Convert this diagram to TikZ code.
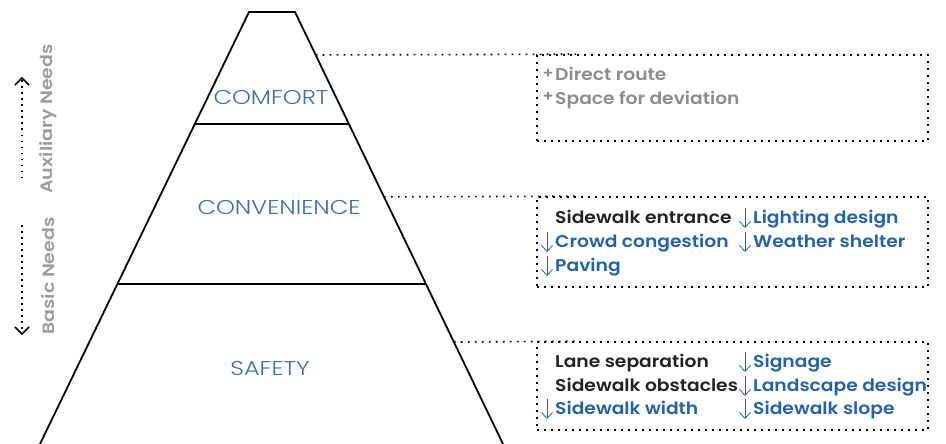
\documentclass[tikz,border=0pt]{standalone}
\usepackage{fontspec}
\setmainfont{Poppins}
\IfFontExistsTF{Poppins SemiBold}{%
  \newfontfamily\semib{Poppins SemiBold}[FakeStretch=1.1]%
  \newfontfamily\semibs{Poppins SemiBold}[FakeStretch=1.15]}{%
  \newfontfamily\semib{Poppins}[UprightFont=*-Bold,FakeStretch=1.1]%
  \newfontfamily\semibs{Poppins}[UprightFont=*-Bold,FakeStretch=1.15]}
\IfFontExistsTF{Poppins Light}{\newfontfamily\lightf{Poppins Light}[FakeStretch=1.2]}{\newfontfamily\lightf{Poppins}[FakeStretch=1.2]}
\usetikzlibrary{arrows.meta,calc}
\definecolor{lblue}{HTML}{3A6EB3}
\definecolor{tblue}{HTML}{2462A8}
\definecolor{tdark}{HTML}{222222}
\definecolor{tgray}{HTML}{8C8C8C}
\definecolor{sgray}{HTML}{9C9C9C}
\tikzset{
  pyr/.style={line width=1.8pt, black},
  level/.style={font=\lightf\fontsize{20}{20}\selectfont, text=lblue, inner sep=0pt},
  dotline/.style={line width=1.6pt, dash pattern=on 1.6pt off 5.4pt, black},
  infobox/.style={dotline, draw, minimum width=391pt, inner sep=0pt},
  item/.style={font=\semib\fontsize{17}{17}\selectfont, anchor=base west, inner sep=0pt},
  dk/.style={item, text=tdark},
  bl/.style={item, text=tblue},
  gr/.style={item, text=tgray},
  plus/.style={text=tgray, font=\semib\fontsize{15}{15}\selectfont, anchor=east, inner sep=0pt},
  dnarr/.style={line width=0.8pt, tblue, -{Straight Barb[length=6pt,width=11pt]}},
  side/.style={font=\semibs\fontsize{16.5}{16.5}\selectfont, text=sgray, rotate=90, inner sep=0pt},
  sidearr/.style={line width=1.5pt, dash pattern=on 1.5pt off 4.5pt, black},
}
\begin{document}
\begin{tikzpicture}[x=1pt,y=-1pt]
\useasboundingbox (0,0) rectangle (946,444);
% pyramid
\coordinate (BL) at (40,444);
\coordinate (TL) at (249,12);
\coordinate (TR) at (295,12);
\coordinate (BR) at (503,444);
\draw[pyr, line join=miter] (BL) -- (TL) -- (TR) -- (BR);
\draw[pyr] ($(TL)!0.2593!(BL)$) -- ($(TR)!0.2593!(BR)$);
\draw[pyr] ($(TL)!0.6296!(BL)$) -- ($(TR)!0.6296!(BR)$);
\node[level] (comfort) at (271,97) {COMFORT};
\node[level] (conv) at (279,207) {CONVENIENCE};
\node[level] (safety) at (270,368) {SAFETY};
% side labels
\node[side] (aux) at (48,119) {Auxiliary Needs};
\node[side] (basic) at (48,276) {Basic Needs};
\coordinate (a1t) at (22,77);
\coordinate (a1b) at (22,178);
\coordinate (a2t) at (22,225);
\coordinate (a2b) at (22,335);
\draw[sidearr, -{Straight Barb[length=7pt,width=14pt]}] (a1b) -- (a1t);
\draw[sidearr, -{Straight Barb[length=7pt,width=14pt]}] (a2t) -- (a2b);
% boxes
\node[infobox, minimum height=86pt] (box1) at (732.5,98) {};
\node[infobox, minimum height=90pt] (box2) at (732.5,242) {};
\node[infobox, minimum height=88pt] (box3) at (732.5,386) {};
\draw[dotline] ($(TR)!0.0995!(BR)$) -- ([xshift=40pt]box1.north west);
\draw[dotline] ($(TR)!0.428!(BR)$) -- ([xshift=40pt]box2.north west);
\draw[dotline] ($(TR)!0.764!(BR)$) -- ([xshift=40pt]box3.north west);
% comfort list
\node[gr] (c1) at (555,81) {Direct route};
\node[gr] (c2) at (555,104) {Space for deviation};
\node[plus] (p1) at ([xshift=-1pt,yshift=7pt]c1.base west) {+};
\node[plus] (p2) at ([xshift=-1pt,yshift=7pt]c2.base west) {+};
% convenience list
\node[dk] (v1) at (555,223) {Sidewalk entrance};
\node[bl] (v2) at (555,247) {Crowd congestion};
\node[bl] (v3) at (555,271) {Paving};
\node[bl] (v4) at (753,223) {Lighting design};
\node[bl] (v5) at (753,247) {Weather shelter};
\foreach \n in {v2,v3,v4,v5}{
  \draw[dnarr] ([xshift=-8pt,yshift=15pt]\n.base west) -- ([xshift=-8pt,yshift=-5pt]\n.base west);
}
% safety list
\node[dk] (s1) at (555,367) {Lane separation};
\node[dk] (s2) at (555,391) {Sidewalk obstacles};
\node[bl] (s3) at (555,414) {Sidewalk width};
\node[bl] (s4) at (753,367) {Signage};
\node[bl] (s5) at (753,391) {Landscape design};
\node[bl] (s6) at (753,414) {Sidewalk slope};
\foreach \n in {s3,s4,s5,s6}{
  \draw[dnarr] ([xshift=-8pt,yshift=15pt]\n.base west) -- ([xshift=-8pt,yshift=-5pt]\n.base west);
}
\end{tikzpicture}
\end{document}
